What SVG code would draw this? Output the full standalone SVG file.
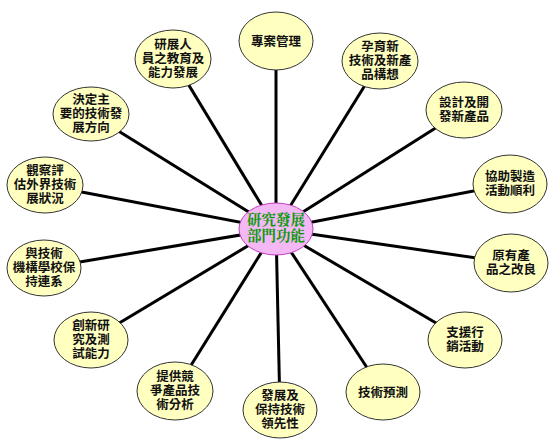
<svg xmlns="http://www.w3.org/2000/svg" width="555" height="447" viewBox="0 0 555 447">
<style>
.n ellipse{fill:#ffffc0;stroke:#333;stroke-width:1}
.n text{font-family:"Liberation Sans","Noto Sans CJK TC","Noto Sans CJK SC",sans-serif;font-size:12.5px;font-weight:bold;fill:#111;text-anchor:middle;dominant-baseline:central}
#connectors line{stroke:#000;stroke-width:3}
#hub ellipse{fill:#f4b8f4;stroke:#c040c0;stroke-width:1}
#hub text{font-family:"Liberation Serif","Noto Serif CJK TC","Noto Sans CJK TC",serif;font-size:14.5px;font-weight:bold;fill:#0a9a0a;text-anchor:middle;dominant-baseline:central}
</style>
<rect width="555" height="447" fill="#fff"/>
<g id="connectors">
<line x1="276" y1="229" x2="276" y2="41"/>
<line x1="276" y1="229" x2="173" y2="59"/>
<line x1="276" y1="229" x2="380" y2="61"/>
<line x1="276" y1="229" x2="464" y2="110"/>
<line x1="276" y1="229" x2="510" y2="184"/>
<line x1="276" y1="229" x2="511" y2="263"/>
<line x1="276" y1="229" x2="465" y2="340"/>
<line x1="276" y1="229" x2="383" y2="392"/>
<line x1="276" y1="229" x2="280" y2="410"/>
<line x1="276" y1="229" x2="175" y2="391"/>
<line x1="276" y1="229" x2="91" y2="340"/>
<line x1="276" y1="229" x2="44" y2="268"/>
<line x1="276" y1="229" x2="45" y2="185"/>
<line x1="276" y1="229" x2="91" y2="114"/>
</g>
<g id="hub"><ellipse cx="276" cy="229" rx="37" ry="26"/><text x="276" y="220">研究發展<tspan x="276" dy="16">部門功能</tspan></text></g>
<g id="n1" class="n"><ellipse cx="276" cy="41" rx="37" ry="29"/><text x="276" y="42">專案管理</text></g>
<g id="n2" class="n"><ellipse cx="173" cy="59" rx="38" ry="29"/><text x="173" y="45">研展人<tspan x="173" dy="14">員之教育及</tspan><tspan x="173" dy="14">能力發展</tspan></text></g>
<g id="n3" class="n"><ellipse cx="380" cy="61" rx="38" ry="28"/><text x="380" y="47">孕育新<tspan x="380" dy="14">技術及新產</tspan><tspan x="380" dy="14">品構想</tspan></text></g>
<g id="n4" class="n"><ellipse cx="464" cy="110" rx="38" ry="28"/><text x="464" y="103">設計及開<tspan x="464" dy="14">發新產品</tspan></text></g>
<g id="n5" class="n"><ellipse cx="510" cy="184" rx="37" ry="29"/><text x="510" y="177">協助製造<tspan x="510" dy="14">活動順利</tspan></text></g>
<g id="n6" class="n"><ellipse cx="511" cy="263" rx="37" ry="29"/><text x="511" y="256">原有產<tspan x="511" dy="14">品之改良</tspan></text></g>
<g id="n7" class="n"><ellipse cx="465" cy="340" rx="37" ry="28"/><text x="465" y="333">支援行<tspan x="465" dy="14">銷活動</tspan></text></g>
<g id="n8" class="n"><ellipse cx="383" cy="392" rx="37" ry="28"/><text x="383" y="393">技術預測</text></g>
<g id="n9" class="n"><ellipse cx="280" cy="410" rx="37" ry="28"/><text x="280" y="396">發展及<tspan x="280" dy="14">保持技術</tspan><tspan x="280" dy="14">領先性</tspan></text></g>
<g id="n10" class="n"><ellipse cx="175" cy="391" rx="38" ry="29"/><text x="175" y="377">提供競<tspan x="175" dy="14">爭產品技</tspan><tspan x="175" dy="14">術分析</tspan></text></g>
<g id="n11" class="n"><ellipse cx="91" cy="340" rx="37" ry="28"/><text x="91" y="326">創新研<tspan x="91" dy="14">究及測</tspan><tspan x="91" dy="14">試能力</tspan></text></g>
<g id="n12" class="n"><ellipse cx="44" cy="268" rx="37" ry="28"/><text x="44" y="254">與技術<tspan x="44" dy="14">機構學校保</tspan><tspan x="44" dy="14">持連系</tspan></text></g>
<g id="n13" class="n"><ellipse cx="45" cy="185" rx="38" ry="28"/><text x="45" y="171">觀察評<tspan x="45" dy="14">估外界技術</tspan><tspan x="45" dy="14">展狀況</tspan></text></g>
<g id="n14" class="n"><ellipse cx="91" cy="114" rx="38" ry="27"/><text x="91" y="100">決定主<tspan x="91" dy="14">要的技術發</tspan><tspan x="91" dy="14">展方向</tspan></text></g>
</svg>
